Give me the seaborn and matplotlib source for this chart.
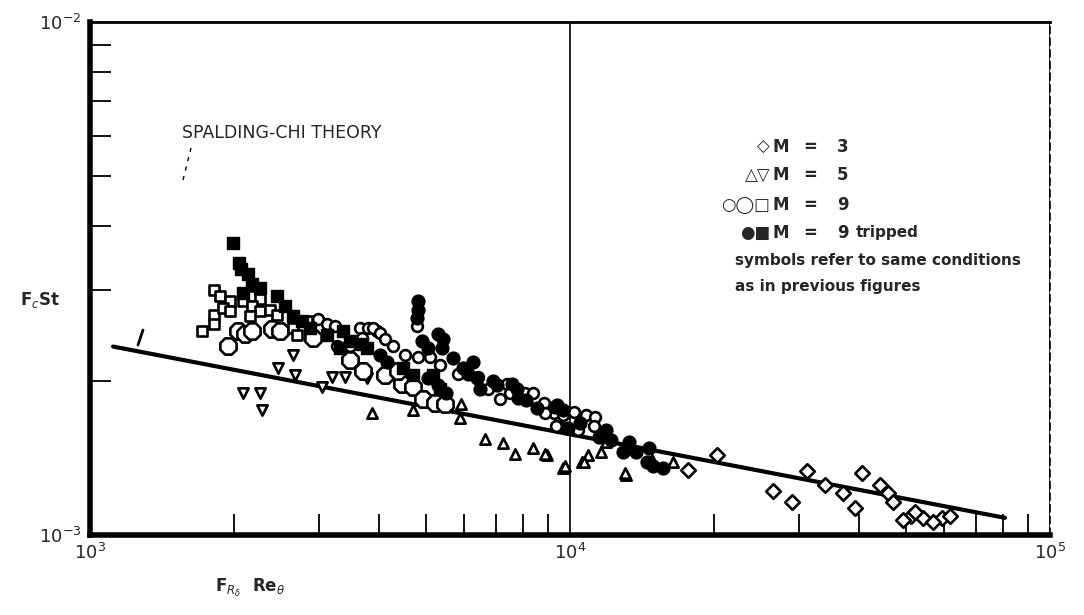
import matplotlib
matplotlib.use("Agg")
import matplotlib.pyplot as plt
import seaborn as sns
from matplotlib.ticker import LogLocator, NullFormatter
from matplotlib.lines import Line2D

# ---------------- data ----------------
# M = 3, open diamonds
m3_x = [2.02e4, 1.76e4, 3.11e4, 3.40e4, 3.70e4, 4.06e4, 4.42e4, 4.60e4, 4.71e4, 3.93e4,
        2.65e4, 2.90e4, 5.13e4, 5.44e4, 5.96e4, 6.19e4, 5.70e4, 4.94e4, 5.24e4]
m3_y = [1.43e-3, 1.34e-3, 1.33e-3, 1.25e-3, 1.21e-3, 1.32e-3, 1.25e-3, 1.21e-3, 1.16e-3, 1.13e-3,
        1.22e-3, 1.16e-3, 1.09e-3, 1.08e-3, 1.08e-3, 1.09e-3, 1.06e-3, 1.07e-3, 1.11e-3]

# M = 5, open triangles (up)
m5u_x = [3.86e3, 4.71e3, 5.94e3, 5.90e3, 5.29e3, 6.65e3, 7.25e3, 7.68e3, 8.37e3, 8.95e3,
         9.67e3, 1.06e4, 1.09e4, 1.31e4, 1.19e4, 1.16e4, 1.64e4, 1.48e4, 8.87e3, 9.76e3,
         1.07e4, 1.30e4]
m5u_y = [1.73e-3, 1.75e-3, 1.80e-3, 1.69e-3, 1.80e-3, 1.54e-3, 1.51e-3, 1.44e-3, 1.48e-3, 1.43e-3,
         1.35e-3, 1.39e-3, 1.43e-3, 1.31e-3, 1.52e-3, 1.45e-3, 1.39e-3, 1.40e-3, 1.44e-3, 1.36e-3,
         1.39e-3, 1.32e-3]

# M = 5, open triangles (down)
m5d_x = [2.65e3, 2.46e3, 2.67e3, 3.05e3, 3.20e3, 3.40e3, 3.77e3, 2.08e3, 2.26e3, 2.28e3]
m5d_y = [2.24e-3, 2.12e-3, 2.05e-3, 1.94e-3, 2.03e-3, 2.03e-3, 2.02e-3, 1.89e-3, 1.89e-3, 1.75e-3]

# M = 9, small open circles
m9c_x = [2.98e3, 3.11e3, 3.24e3, 3.65e3, 3.80e3, 3.97e3, 3.69e3, 3.27e3, 3.48e3, 3.88e3,
         4.02e3, 4.12e3, 4.27e3, 4.53e3, 4.82e3, 5.11e3, 5.36e3, 5.84e3, 6.42e3, 6.75e3,
         7.40e3, 7.50e3, 8.06e3, 8.37e3, 8.82e3, 9.27e3, 9.67e3, 9.48e3, 7.15e3, 8.87e3,
         9.35e3, 1.02e4, 1.08e4, 1.13e4, 1.12e4, 1.04e4, 4.80e3]
m9c_y = [2.64e-3, 2.58e-3, 2.55e-3, 2.53e-3, 2.53e-3, 2.50e-3, 2.42e-3, 2.34e-3, 2.34e-3, 2.53e-3,
         2.48e-3, 2.41e-3, 2.34e-3, 2.24e-3, 2.22e-3, 2.22e-3, 2.14e-3, 2.06e-3, 2.03e-3, 1.93e-3,
         1.97e-3, 1.89e-3, 1.89e-3, 1.89e-3, 1.81e-3, 1.73e-3, 1.71e-3, 1.63e-3, 1.84e-3, 1.73e-3,
         1.63e-3, 1.74e-3, 1.71e-3, 1.70e-3, 1.63e-3, 1.60e-3, 2.55e-3]

# M = 9, large open octagons
m9h_x = [1.94e3, 2.03e3, 2.10e3, 2.17e3, 2.39e3, 2.49e3, 2.92e3, 3.48e3, 3.70e3, 4.12e3,
         4.46e3, 4.71e3, 4.94e3, 5.23e3, 4.38e3, 5.48e3]
m9h_y = [2.34e-3, 2.50e-3, 2.47e-3, 2.50e-3, 2.52e-3, 2.50e-3, 2.42e-3, 2.19e-3, 2.09e-3, 2.05e-3,
         1.97e-3, 1.94e-3, 1.84e-3, 1.81e-3, 2.09e-3, 1.80e-3]

# M = 9, small open squares
m9s_x = [1.81e3, 1.87e3, 1.96e3, 1.81e3, 1.81e3, 1.89e3, 1.96e3, 2.08e3, 2.17e3, 2.26e3,
         2.17e3, 2.26e3, 2.37e3, 2.15e3, 2.45e3, 2.65e3, 2.70e3, 2.83e3, 1.71e3]
m9s_y = [3.00e-3, 2.92e-3, 2.86e-3, 2.69e-3, 2.58e-3, 2.77e-3, 2.73e-3, 2.86e-3, 2.92e-3, 2.88e-3,
         2.80e-3, 2.73e-3, 2.75e-3, 2.67e-3, 2.69e-3, 2.53e-3, 2.45e-3, 2.61e-3, 2.50e-3]

# M = 9 tripped, filled circles
m9tc_x = [4.82e3, 4.82e3, 4.80e3, 5.31e3, 5.44e3, 4.92e3, 5.06e3, 5.41e3, 5.70e3, 6.28e3,
          5.99e3, 6.13e3, 6.39e3, 6.49e3, 6.91e3, 7.05e3, 7.57e3, 7.75e3, 7.79e3, 8.08e3,
          8.54e3, 9.39e3, 9.67e3, 4.02e3, 4.16e3, 5.06e3, 5.30e3, 5.52e3, 9.30e3, 9.90e3,
          1.05e4, 1.19e4, 1.15e4, 1.22e4, 1.33e4, 1.29e4, 1.37e4, 1.46e4, 1.49e4, 1.56e4,
          1.45e4]
m9tc_y = [2.86e-3, 2.75e-3, 2.65e-3, 2.47e-3, 2.41e-3, 2.39e-3, 2.32e-3, 2.32e-3, 2.21e-3, 2.17e-3,
          2.12e-3, 2.06e-3, 2.02e-3, 1.93e-3, 2.00e-3, 1.96e-3, 1.97e-3, 1.93e-3, 1.85e-3, 1.83e-3,
          1.77e-3, 1.79e-3, 1.75e-3, 2.24e-3, 2.17e-3, 2.02e-3, 1.96e-3, 1.89e-3, 1.78e-3, 1.62e-3,
          1.65e-3, 1.60e-3, 1.55e-3, 1.53e-3, 1.52e-3, 1.45e-3, 1.45e-3, 1.48e-3, 1.36e-3, 1.35e-3,
          1.39e-3]

# M = 9 tripped, filled squares
m9ts_x = [1.99e3, 2.04e3, 2.06e3, 2.13e3, 2.17e3, 2.26e3, 2.08e3, 2.45e3, 2.55e3, 2.65e3,
          2.77e3, 2.87e3, 3.11e3, 3.37e3, 3.48e3, 3.69e3, 3.32e3, 3.77e3, 4.48e3, 4.71e3,
          5.18e3, 5.36e3]
m9ts_y = [3.71e-3, 3.39e-3, 3.30e-3, 3.23e-3, 3.09e-3, 3.03e-3, 2.96e-3, 2.92e-3, 2.80e-3, 2.67e-3,
          2.61e-3, 2.53e-3, 2.45e-3, 2.50e-3, 2.39e-3, 2.36e-3, 2.32e-3, 2.32e-3, 2.12e-3, 2.05e-3,
          2.05e-3, 1.93e-3]

# Spalding-Chi theory line
theory_x = [1.117e3, 8.06e4]
theory_y = [2.33e-3, 1.08e-3]

# ---------------- figure ----------------
sns.set_style("white")
plt.rcParams['font.family'] = ['DejaVu Sans']

W, H = 1084, 615
fig = plt.figure(figsize=(W / 100, H / 100), dpi=100)
ax = fig.add_axes([90 / W, 1 - 535 / H, (1050 - 90) / W, (535 - 22) / H])
ax.set_xscale('log')
ax.set_yscale('log')

open_kw = dict(color='white', edgecolor='black', linewidth=1.9, zorder=3, ax=ax, legend=False)
fill_kw = dict(color='black', edgecolor='black', linewidth=1.0, zorder=4, ax=ax, legend=False)

sns.lineplot(x=theory_x, y=theory_y, color='black', linewidth=3, ax=ax, zorder=2)
sns.scatterplot(x=m3_x, y=m3_y, marker='D', s=55, **open_kw)
sns.scatterplot(x=m5u_x, y=m5u_y, marker='^', s=55, **open_kw)
sns.scatterplot(x=m5d_x, y=m5d_y, marker='v', s=55, **open_kw)
sns.scatterplot(x=m9h_x, y=m9h_y, marker='8', s=160, **open_kw)
sns.scatterplot(x=m9s_x, y=m9s_y, marker='s', s=48, **open_kw)
sns.scatterplot(x=m9c_x, y=m9c_y, marker='o', s=60, **open_kw)
sns.scatterplot(x=m9tc_x, y=m9tc_y, marker='o', s=85, **fill_kw)
sns.scatterplot(x=m9ts_x, y=m9ts_y, marker='s', s=68, **fill_kw)

ax.set_xlim(1e3, 1e5)
ax.set_ylim(1e-3, 1e-2)

# ticks
ax.xaxis.set_major_locator(LogLocator(base=10, numticks=10))
ax.xaxis.set_minor_locator(LogLocator(base=10, subs=range(2, 10), numticks=20))
ax.yaxis.set_major_locator(LogLocator(base=10, numticks=10))
ax.yaxis.set_minor_locator(LogLocator(base=10, subs=range(2, 10), numticks=20))
ax.xaxis.set_minor_formatter(NullFormatter())
ax.yaxis.set_minor_formatter(NullFormatter())
ax.tick_params(which='minor', direction='in', length=15, width=1.3, color='black',
               bottom=True, left=True, top=False, right=False)
ax.tick_params(which='major', direction='in', length=0, labelsize=13, pad=6)
ax.grid(False)
ax.grid(True, which='major', axis='x', color='black', linewidth=1.2)

for side, lw in (('left', 4), ('bottom', 4), ('top', 2), ('right', 1.2)):
    ax.spines[side].set_visible(True)
    ax.spines[side].set_color('black')
    ax.spines[side].set_linewidth(lw)
ax.spines['right'].set_linestyle((0, (4, 3)))

ax.set_xlabel('')
ax.set_ylabel('')

# axis labels
fig.text(20 / W, 1 - 300 / H, r'F$_c$St', fontsize=12, fontweight='bold', va='center', ha='left')
fig.text(215 / W, 1 - 588 / H, r'F$_{R_\delta}$  Re$_\theta$', fontsize=12, fontweight='bold',
         va='center', ha='left')

# theory annotation
fig.text(182 / W, 1 - 133 / H, 'SPALDING-CHI THEORY', fontsize=12.5, va='center', ha='left')
fig.add_artist(Line2D([183 / W, 191 / W], [1 - 180 / H, 1 - 148 / H], color='black',
                      linewidth=1.0, linestyle=(0, (3, 4))))
fig.add_artist(Line2D([138 / W, 143 / W], [1 - 345 / H, 1 - 330 / H], color='black',
                      linewidth=2.0))

# legend block
rows = [('◇', '3', '', 147), ('△▽', '5', '', 175), ('○◯□', '9', '', 205), ('●■', '9', 'tripped', 233)]
for sym, num, extra, py in rows:
    y = 1 - py / H
    fig.text(770 / W, y, sym, fontsize=12, va='center', ha='right')
    fig.text(772 / W, y, 'M', fontsize=12, fontweight='bold', va='center', ha='left')
    fig.text(810 / W, y, '=', fontsize=12, fontweight='bold', va='center', ha='center')
    fig.text(843 / W, y, num, fontsize=12, fontweight='bold', va='center', ha='center')
    if extra:
        fig.text(856 / W, y, extra, fontsize=11, fontweight='bold', va='center', ha='left')
fig.text(735 / W, 1 - 260 / H, 'symbols refer to same conditions', fontsize=11,
         fontweight='bold', va='center', ha='left')
fig.text(735 / W, 1 - 287 / H, 'as in previous figures', fontsize=11,
         fontweight='bold', va='center', ha='left')

fig.savefig('out.png', dpi=100, facecolor='white')
